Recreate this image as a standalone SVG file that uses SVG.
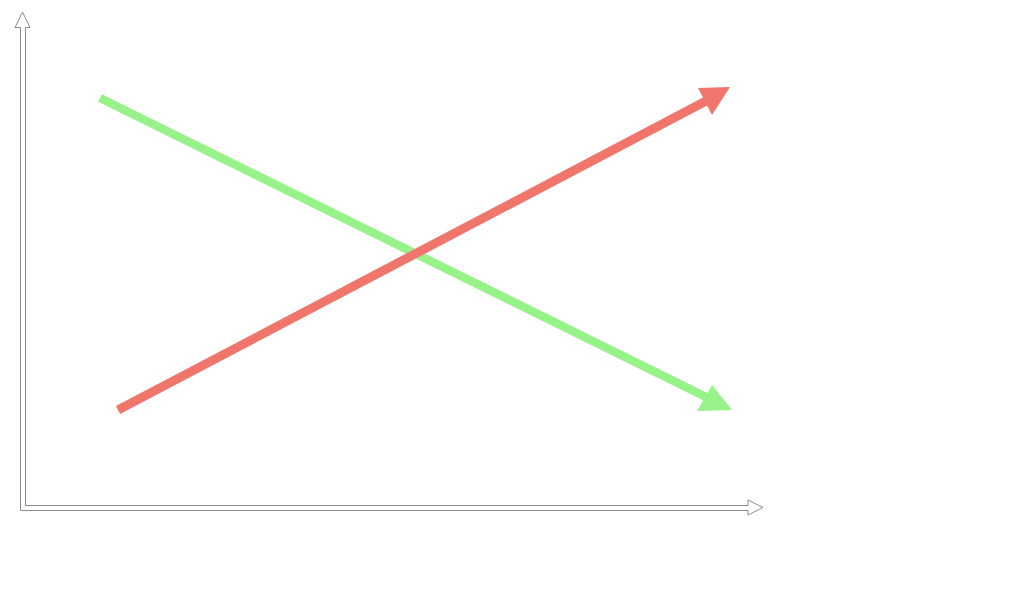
<svg xmlns="http://www.w3.org/2000/svg" width="1020" height="594" viewBox="0 0 1020 594">
<style>
.axis{fill:#fff;stroke:#8a8a8a;stroke-width:1}
.g{stroke:#97f28a;stroke-width:8.5;fill:none}
.gh{fill:#97f28a}
.r{stroke:#f0766c;stroke-width:9;fill:none}
.rh{fill:#f0766c}
</style>
<rect width="1020" height="594" fill="#fff"/>
<g id="axes">
<path class="axis" d="M20.5,510.5 L20.5,27.5 L15,27.5 L22.5,12 L30,27.5 L25.5,27.5 L25.5,505.5 L748,505.5 L748,500 L763,507.5 L748,515 L748,510.5 Z"/>
</g>
<g id="connectors">
<g id="green-arrow">
<line class="g" x1="100" y1="98" x2="706" y2="397"/>
<polygon class="gh" points="697,411 712,385 732,410"/>
</g>
<g id="red-arrow">
<line class="r" x1="118" y1="410" x2="706" y2="101"/>
<polygon class="rh" points="698,88 712,115 730,87"/>
</g>
</g>
</svg>
